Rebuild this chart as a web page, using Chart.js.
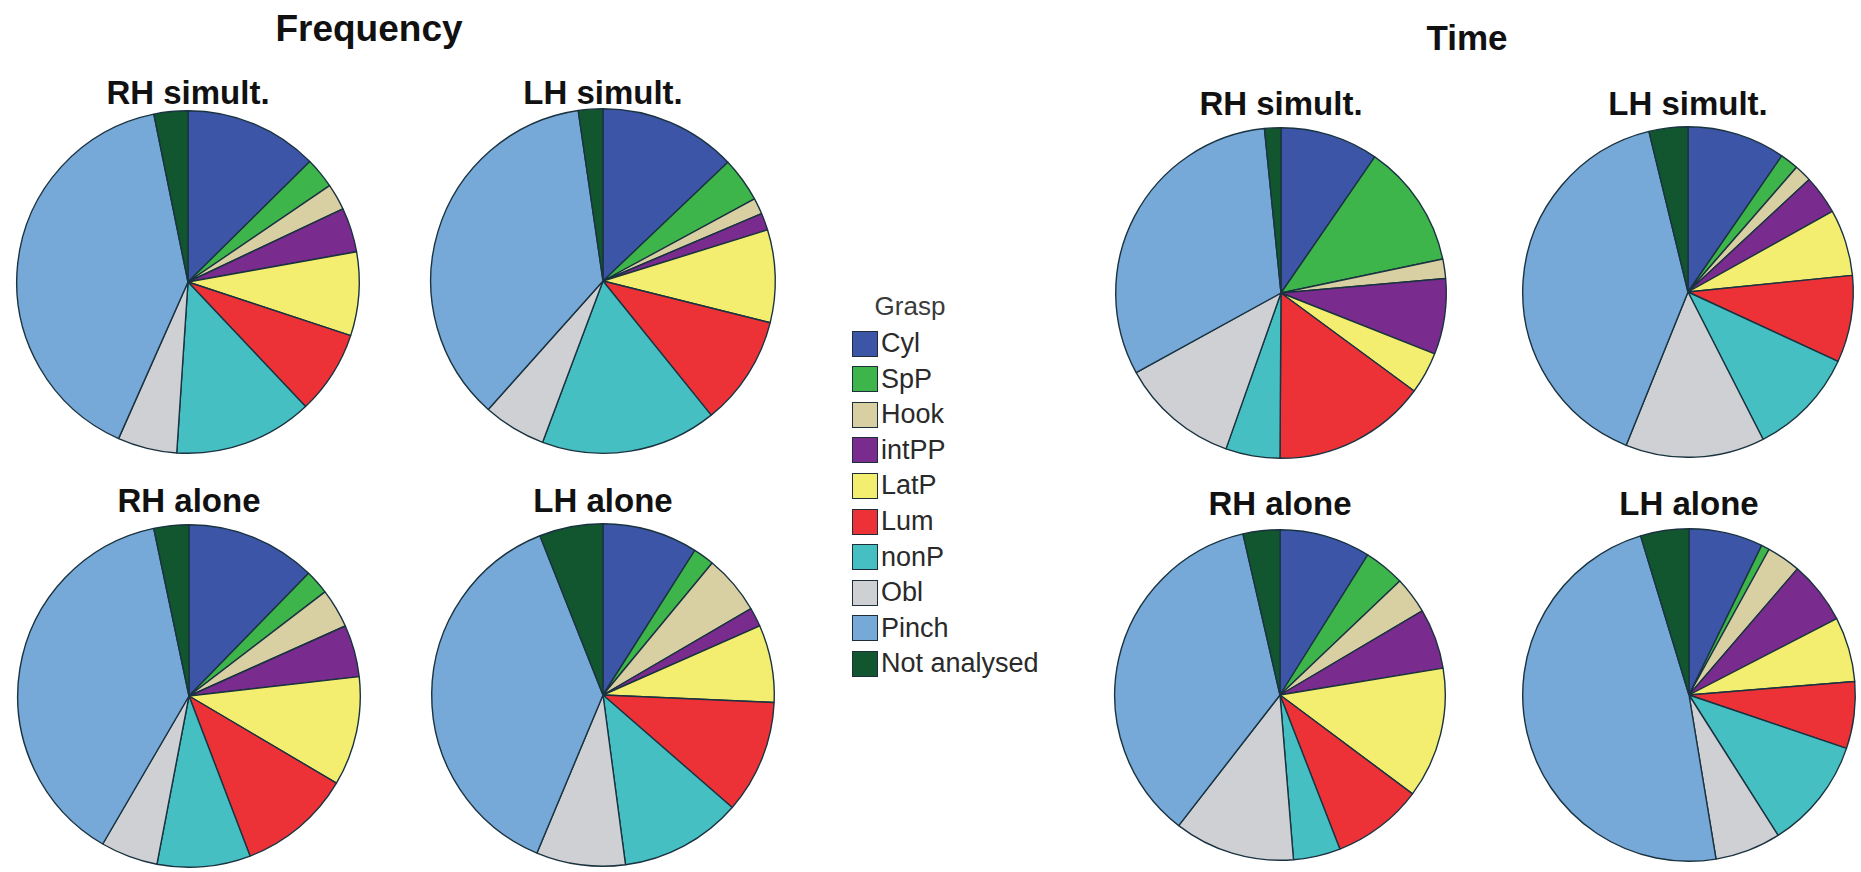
<!DOCTYPE html>
<html>
<head>
<meta charset="utf-8">
<script src="https://cdn.jsdelivr.net/npm/chart.js@4"></script>
<style>
  html, body { margin: 0; padding: 0; background: #ffffff; }
  body { width: 1861px; height: 872px; position: relative; overflow: hidden;
         font-family: 'Liberation Sans', Arial, sans-serif; color: #111; }
  .lbl { position: absolute; transform: translate(-50%, -50%); line-height: 1; white-space: nowrap; font-weight: bold; }
  .pie { position: absolute; }
  #legend { position: absolute; left: 852px; top: 290px; }
  #legend .ttl { position: absolute; left: 58px; top: 16px; transform: translate(-50%, -50%);
                 font-size: 26px; line-height: 1; color: #3a3a3a; white-space: nowrap; }
  #legend .row { position: absolute; left: 0; height: 27px; display: flex; align-items: center; white-space: nowrap; }
  #legend .box { width: 26px; height: 26px; border: 1px solid #1d2e38; box-sizing: border-box; margin-right: 3px; }
  #legend .txt { font-size: 27px; line-height: 1; color: #2a2a2a; }
</style>
</head>
<body>
<script>
// Grasp categories and their colours
const grasps = ['Cyl', 'SpP', 'Hook', 'intPP', 'LatP', 'Lum', 'nonP', 'Obl', 'Pinch', 'Not analysed'];
const graspColors = ['#3c55a6', '#3db54b', '#d8d0a2', '#7a2b8e', '#f3ee6f', '#ec3237',
                     '#46bfc3', '#cfd0d4', '#76a8d8', '#11562f'];

// Share of grasps (%), by frequency of occurrence
const freqRHsimult = [12.6, 2.9, 2.5, 4.2, 7.9, 7.9, 13.1, 5.6, 40.2, 3.2];
const freqLHsimult = [12.9, 4.2, 1.5, 1.6, 8.7, 10.3, 16.5, 5.9, 36.1, 2.3];
const freqRHalone  = [12.3, 2.3, 3.7, 4.9, 10.3, 10.7, 8.8, 5.4, 38.3, 3.3];
const freqLHalone  = [9.0, 2.0, 5.6, 1.8, 7.3, 10.7, 11.5, 8.4, 37.7, 6.0];

// Share of grasps (%), by time spent
const timeRHsimult = [9.6, 12.1, 1.9, 7.4, 4.1, 15.0, 5.3, 11.6, 31.4, 1.6];
const timeLHsimult = [9.6, 1.8, 1.7, 3.8, 6.5, 8.5, 10.6, 13.6, 40.1, 3.8];
const timeRHalone  = [8.9, 4.0, 3.6, 5.9, 12.8, 8.9, 4.6, 11.8, 35.9, 3.6];
const timeLHalone  = [7.2, 0.8, 3.3, 6.1, 6.3, 6.5, 10.8, 6.4, 47.9, 4.7];

// Panel headings
const groupTitles = ['Frequency', 'Time'];
const panelTitles = ['RH simult.', 'LH simult.', 'RH alone', 'LH alone'];

// Page layout: one entry per pie (centre and radius in px)
const panels = [
  { data: freqRHsimult, title: panelTitles[0], cx: 188, cy: 282, r: 172, ty: 92 },
  { data: freqLHsimult, title: panelTitles[1], cx: 603, cy: 281, r: 173, ty: 92 },
  { data: freqRHalone,  title: panelTitles[2], cx: 189, cy: 696, r: 172, ty: 500 },
  { data: freqLHalone,  title: panelTitles[3], cx: 603, cy: 695, r: 172, ty: 500 },
  { data: timeRHsimult, title: panelTitles[0], cx: 1281, cy: 293, r: 166, ty: 103 },
  { data: timeLHsimult, title: panelTitles[1], cx: 1688, cy: 292, r: 166, ty: 103 },
  { data: timeRHalone,  title: panelTitles[2], cx: 1280, cy: 695, r: 166, ty: 503 },
  { data: timeLHalone,  title: panelTitles[3], cx: 1689, cy: 695, r: 167, ty: 503 }
];
const groupHeads = [
  { text: groupTitles[0], cx: 369, cy: 28, size: 37 },
  { text: groupTitles[1], cx: 1467, cy: 37, size: 35 }
];

function addLabel(text, cx, cy, size) {
  const d = document.createElement('div');
  d.className = 'lbl';
  d.style.left = cx + 'px';
  d.style.top = cy + 'px';
  d.style.fontSize = size + 'px';
  d.textContent = text;
  document.body.appendChild(d);
}

groupHeads.forEach(g => addLabel(g.text, g.cx, g.cy, g.size));

panels.forEach(p => {
  addLabel(p.title, p.cx, p.ty, 33);
  const pad = 2;
  const size = 2 * p.r + 2 * pad;
  const c = document.createElement('canvas');
  c.className = 'pie';
  c.width = size;
  c.height = size;
  c.style.left = (p.cx - size / 2) + 'px';
  c.style.top = (p.cy - size / 2) + 'px';
  document.body.appendChild(c);
  new Chart(c, {
    type: 'pie',
    data: {
      labels: grasps,
      datasets: [{
        data: p.data,
        backgroundColor: graspColors,
        borderColor: '#1a3340',
        borderWidth: 1.4
      }]
    },
    options: {
      responsive: false,
      animation: false,
      devicePixelRatio: 1,
      layout: { padding: pad },
      plugins: { legend: { display: false }, tooltip: { enabled: false }, title: { display: false } }
    }
  });
});

// Legend block
const legend = document.createElement('div');
legend.id = 'legend';
const ttl = document.createElement('div');
ttl.className = 'ttl';
ttl.textContent = 'Grasp';
legend.appendChild(ttl);
grasps.forEach((g, i) => {
  const row = document.createElement('div');
  row.className = 'row';
  row.style.top = (40 + i * 35.6) + 'px';
  const b = document.createElement('div');
  b.className = 'box';
  b.style.background = graspColors[i];
  const t = document.createElement('span');
  t.className = 'txt';
  t.textContent = g;
  row.appendChild(b);
  row.appendChild(t);
  legend.appendChild(row);
});
document.body.appendChild(legend);
</script>
</body>
</html>
